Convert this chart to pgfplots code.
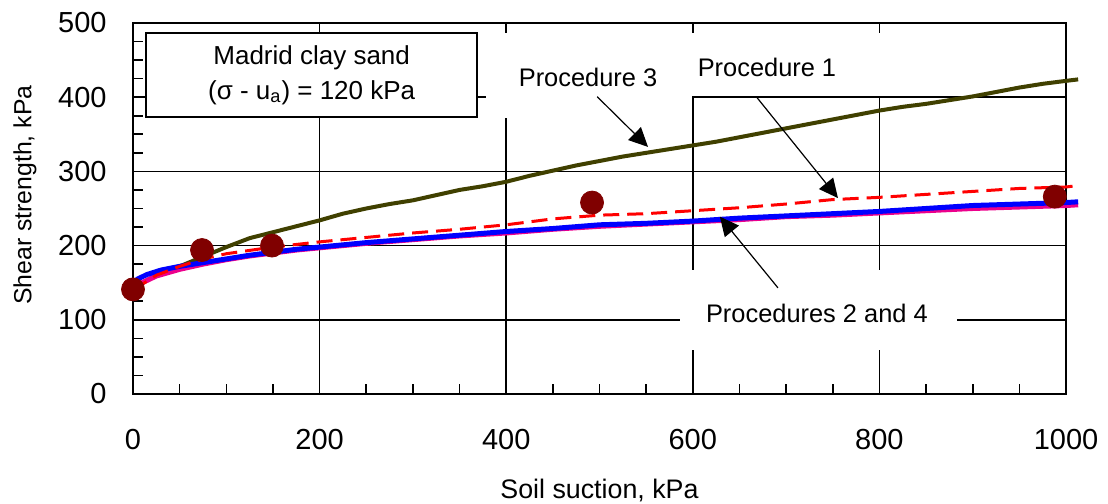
\documentclass[border=0pt]{standalone}
\usepackage{fontspec}
\setmainfont{Liberation Sans}
\usepackage{pgfplots}
\pgfplotsset{compat=1.18}
\usetikzlibrary{arrows.meta}
\definecolor{olivedark}{RGB}{64,64,0}
\definecolor{dotred}{RGB}{128,0,0}
\begin{document}
\begin{tikzpicture}
\begin{axis}[
 scale only axis, width=466.5pt, height=185.5pt,
 xmin=0,xmax=1000,ymin=0,ymax=500,
 xtick={0,200,...,1000}, ytick={0,100,...,500},
 minor x tick num=3, minor y tick num=3,
 tick pos=left, tick align=inside,
 major tick length=5pt, minor tick length=5pt,
 every tick/.style={black, line width=0.8pt},
 grid=major,
 major grid style={black, line width=0.8pt},
 axis line style={black, line width=1.2pt},
 clip=false,
 /pgf/number format/assume math mode=true,
 /pgf/number format/1000 sep={},
 ticklabel style={font=\fontsize{14.5}{17}\selectfont},
 xticklabel style={anchor=center, yshift=-23pt},
 yticklabel style={anchor=east, inner sep=0pt, xshift=-13pt},
 xlabel={Soil suction, kPa},
 ylabel={Shear strength, kPa},
 xlabel style={font=\fontsize{13.4}{16}\selectfont, at={(axis description cs:0.5,-0.259)}, anchor=center},
 ylabel style={font=\fontsize{12.4}{15}\selectfont, at={(axis description cs:-0.1158,0.536)}, anchor=center},
]
\coordinate (bl) at (rel axis cs:0,0);
\coordinate (tr) at (rel axis cs:1,1);
% white label backgrounds covering grid lines
\fill[white] (axis cs:378,486.5) rectangle (axis cs:599,372);
\fill[white] (axis cs:599,486.5) rectangle (axis cs:930,401.6);
\fill[white] (axis cs:586,167) rectangle (axis cs:883,59.3);
\draw[black, line width=1pt, fill=white] (axis cs:14,486.5) rectangle (axis cs:369,373);

% Procedure 3
\addplot[olivedark, line width=2pt] coordinates {
(0,140)(10,150)(25,160)(50,172)(75,185)(100,198)(125,210)(150,218)(175,226)(200,234)
(225,243)(250,250)(275,256)(300,261)(325,268)(350,275)(375,280)(400,286)(425,294)(450,301)
(475,308)(500,314)(525,320)(550,325)(575,330)(600,335)(625,340)(650,346)(675,352)(700,358)
(725,364)(750,370)(775,376)(800,382)(825,387)(850,391)(875,396)(900,401)(925,407)(950,413)
(975,418)(1000,422)(1013,424)};
% Procedure 4
\addplot[magenta, line width=2.5pt] coordinates {
(0,141)(10,150)(25,159)(50,168)(75,175)(100,181)(125,186)(150,190)(175,194)(200,197)
(250,203)(300,208)(350,213)(400,217)(450,222)(500,226)(550,229)(600,232)(650,235)(700,239)
(750,241)(800,244)(850,247)(900,250)(950,252)(1000,254)(1013,255)};
% Procedure 2
\addplot[blue, line width=2.5pt] coordinates {
(0,148)(5,155)(15,161)(30,167)(50,172)(75,177)(100,182)(125,187)(150,191)(175,195)(200,198)
(250,204)(300,209)(350,214)(400,219)(450,223)(500,228)(550,230)(600,233)(650,237)(700,240)
(750,243)(800,246)(850,250)(900,254)(950,256)(1000,258)(1013,259)};
% Procedure 1
\addplot[red, line width=1.5pt, dash pattern=on 8pt off 4pt] coordinates {
(0,140)(25,160)(50,172)(75,182)(100,189)(150,198)(200,205)(250,211)(300,217)(350,222)
(400,228)(450,236)(500,241)(550,243)(600,247)(650,251)(700,256)(750,262)(800,265)(850,269)
(900,273)(950,277)(1000,279)(1007,280)};
% measured
\addplot[only marks, mark=*, mark size=5.75pt, color=dotred, fill=dotred] coordinates {
(0,141)(74,194)(149,200)(492,258)(988,266)};

\node[font=\fontsize{13}{17.5}\selectfont, align=center] at (axis cs:191.5,430) {Madrid clay sand\\(σ - u\textsubscript{a}) = 120 kPa};
\node[font=\fontsize{12.7}{15}\selectfont] at (axis cs:487.7,427) {Procedure 3};
\node[font=\fontsize{12.7}{15}\selectfont] at (axis cs:679.5,440.7) {Procedure 1};
\node[font=\fontsize{12.7}{15}\selectfont] at (axis cs:733,109) {Procedures 2 and 4};
\draw[-{Triangle[length=9.5pt,width=9pt]}, line width=0.6pt] (axis cs:497.5,400.7) -- (axis cs:552,333);
\draw[-{Triangle[length=9.5pt,width=9pt]}, line width=0.6pt] (axis cs:668,400.7) -- (axis cs:755.6,264);
\draw[-{Triangle[length=9.5pt,width=9pt]}, line width=0.6pt] (axis cs:691.3,143) -- (axis cs:629,239);
\end{axis}
\pgfresetboundingbox
\path ([shift={(-66.5pt,-55pt)}]bl) rectangle ([shift={(21pt,11.5pt)}]tr);
\end{tikzpicture}
\end{document}
